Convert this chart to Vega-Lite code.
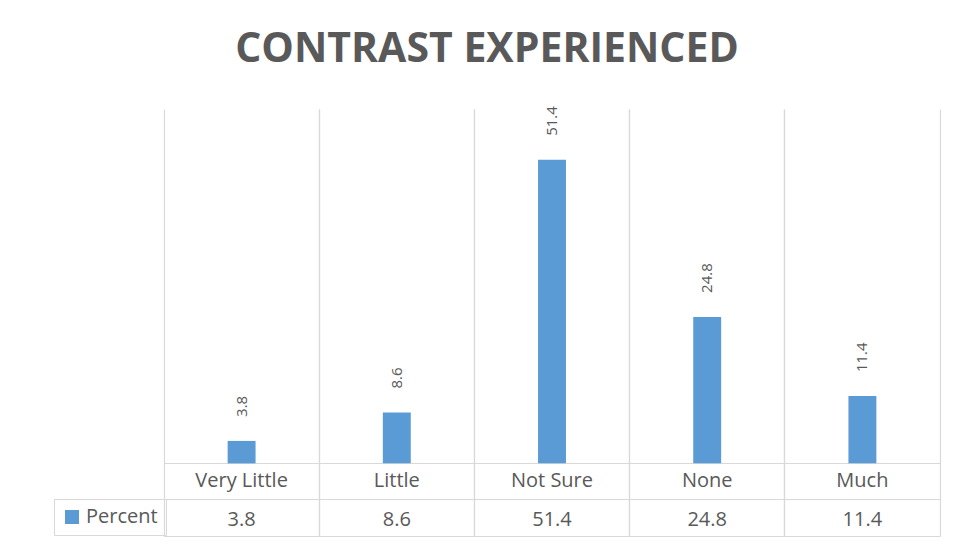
{
  "$schema": "https://vega.github.io/schema/vega-lite/v6.json",
  "autosize": {"type": "none"},
  "width": 776,
  "height": 427,
  "padding": {"left": 164, "top": 109, "right": 20, "bottom": 12},
  "background": "white",
  "title": {
    "text": "CONTRAST EXPERIENCED",
    "font": "Open Sans",
    "fontSize": 41,
    "fontWeight": "bold",
    "color": "#595959",
    "anchor": "middle",
    "dx": -65,
    "offset": -6,
    "baseline": "bottom",
    "limit": 0
  },
  "config": {
    "view": {"stroke": null},
    "font": "Open Sans",
    "axis": {"gridColor": "#d9d9d9", "gridWidth": 1.2, "gridOpacity": 1}
  },
  "data": {
    "values": [
      {"category": "Very Little", "value": 3.8, "series": "Percent"},
      {"category": "Little", "value": 8.6, "series": "Percent"},
      {"category": "Not Sure", "value": 51.4, "series": "Percent"},
      {"category": "None", "value": 24.8, "series": "Percent"},
      {"category": "Much", "value": 11.4, "series": "Percent"}
    ]
  },
  "resolve": {"axis": {"x": "independent"}},
  "layer": [
    {
      "mark": {"type": "bar", "width": {"band": 0.18}},
      "encoding": {
        "x": {
          "field": "category", "type": "nominal", "sort": null,
          "scale": {"paddingInner": 0, "paddingOuter": 0},
          "axis": {"orient": "bottom", "grid": true, "bandPosition": 0, "labels": false, "ticks": false, "domain": false, "title": null}
        },
        "y": {
          "field": "value", "type": "quantitative",
          "scale": {"domain": [-12.3, 60], "nice": false, "zero": false},
          "axis": {"values": [0, -6.1, -12.3], "grid": true, "labels": false, "ticks": false, "domain": false, "title": null}
        },
        "y2": {"datum": 0},
        "color": {
          "field": "series", "type": "nominal",
          "scale": {"range": ["#5b9bd5"]},
          "legend": {
            "title": null,
            "orient": "none",
            "legendX": -110,
            "legendY": 390,
            "symbolType": "square",
            "symbolSize": 196,
            "symbolStrokeWidth": 0,
            "labelFontSize": 20,
            "labelColor": "#595959",
            "labelFont": "Open Sans",
            "labelOffset": 4,
            "padding": 8,
            "strokeColor": "#d9d9d9"
          }
        }
      }
    },
    {
      "mark": {"type": "text", "angle": 270, "align": "left", "baseline": "middle", "dx": 24, "fontSize": 15, "color": "#595959", "font": "Open Sans"},
      "encoding": {
        "x": {
          "field": "category", "type": "nominal", "sort": null,
          "axis": {"orient": "top", "grid": true, "bandPosition": 1, "labels": false, "ticks": false, "domain": false, "title": null}
        },
        "y": {"field": "value", "type": "quantitative"},
        "text": {"field": "value", "type": "quantitative", "format": ".1f"}
      }
    },
    {
      "mark": {"type": "text", "align": "center", "baseline": "middle", "fontSize": 20, "color": "#595959", "font": "Open Sans"},
      "encoding": {
        "x": {"field": "category", "type": "nominal", "sort": null, "axis": null},
        "y": {"datum": -3.05},
        "text": {"field": "category", "type": "nominal"}
      }
    },
    {
      "mark": {"type": "text", "align": "center", "baseline": "middle", "dy": 2, "fontSize": 20, "color": "#595959", "font": "Open Sans"},
      "encoding": {
        "x": {"field": "category", "type": "nominal", "sort": null, "axis": null},
        "y": {"datum": -9.2},
        "text": {"field": "value", "type": "quantitative", "format": ".1f"}
      }
    }
  ]
}
